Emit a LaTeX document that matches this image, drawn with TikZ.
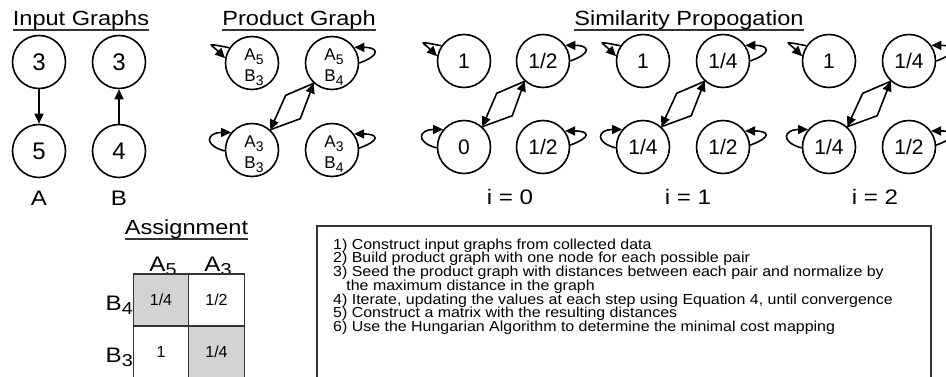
\documentclass[tikz,border=0pt]{standalone}
\usepackage{fontspec}
\usepackage{graphicx}
\setmainfont{Liberation Sans}
\newfontfamily\widefont[FakeStretch=1.15]{Liberation Sans}
\usetikzlibrary{arrows.meta,calc}
\definecolor{cellgray}{HTML}{D3D3D3}
\definecolor{rulegray}{HTML}{333333}
\newcommand{\sub}[1]{\raisebox{-0.22em}{\scalebox{0.82}{#1}}}
\newcommand{\stepfont}{\fontsize{14.5}{13.7}\selectfont\lineskiplimit=-50pt\relax}
\newcommand{\titleline}[3]{\node[heading] (#1) at (#2) {#3};\draw[headrule] ([yshift=-4pt]#1.base west) -- ([yshift=-4pt]#1.base east);}
\newcommand{\wiring}[1]{%
\draw[edgearrow] (#1tl.146) .. controls +(-26,-5) and +(-14,-14) .. (#1tl.170);
\draw[edgearrow] (#1tr.0) .. controls +(22,-8) and +(24,0) .. (#1tr.35);
\draw[edgearrow] (#1bl.182) .. controls +(-22,-6) and +(-24,0) .. (#1bl.140);
\draw[edgearrow] (#1br.4) .. controls +(22,-8) and +(24,0) .. (#1br.36);
\draw[edgearrow] (#1tr.228) -- ++(-28,12) -- (#1bl.48);
\draw[edgearrow] (#1bl.48) -- ++(30,-11) -- (#1tr.228);}
\tikzset{
  vnode/.style={draw, circle, line width=1.6pt, minimum size=53pt, inner sep=0pt, font=\fontsize{24}{24}\selectfont},
  snode/.style={vnode, font=\fontsize{21}{21}\selectfont},
  pairtext/.style={align=center, inner sep=0pt, xshift=2pt, yshift=-4pt, font=\fontsize{17}{21}\selectfont},
  edgearrow/.style={-{Triangle[length=10pt,width=9pt]}, line width=1.6pt},
  heading/.style={anchor=base, inner sep=0pt, font=\widefont\fontsize{20.5}{20.5}\selectfont},
  headrule/.style={line width=1.4pt, rulegray},
  sublabel/.style={anchor=base, inner sep=0pt, font=\widefont\fontsize{21}{21}\selectfont},
  cell/.style={draw=rulegray, line width=1.2pt, minimum width=55.5pt, minimum height=52pt, inner sep=0pt, font=\fontsize{16}{16}\selectfont},
  boxline/.style={draw=rulegray, line width=1.3pt},
  steptext/.style={anchor=north west, align=left, inner sep=0pt, xscale=1.1, font=\stepfont}
}
\begin{document}
\begin{tikzpicture}[x=1pt, y=-1pt]
\useasboundingbox (0,0) rectangle (946,377);
% input graphs
\titleline{tinput}{81,26}{Input Graphs}
\node[vnode] (a3) at (39,62) {3};
\node[vnode] (a5) at (39,151) {5};
\node[vnode] (b3) at (119,62) {3};
\node[vnode] (b4) at (119,151) {4};
\draw[edgearrow] (a3) -- (a5);
\draw[edgearrow] (b4) -- (b3);
\node[sublabel] (la) at (39,206) {A};
\node[sublabel] (lb) at (119,206) {B};
% product graph
\titleline{tproduct}{299,26}{Product Graph}
\node[vnode, label={[pairtext]center:{A\sub{5}\\B\sub{3}}}] (pgtl) at (252,63) {};
\node[vnode, label={[pairtext]center:{A\sub{5}\\B\sub{4}}}] (pgtr) at (332,63) {};
\node[vnode, label={[pairtext]center:{A\sub{3}\\B\sub{3}}}] (pgbl) at (252,150) {};
\node[vnode, label={[pairtext]center:{A\sub{3}\\B\sub{4}}}] (pgbr) at (332,150) {};
\wiring{pg}
% similarity propagation
\titleline{tsim}{689,26}{Similarity Propogation}
\node[snode] (s0tl) at (464,61) {1};
\node[snode] (s0tr) at (543,61) {1/2};
\node[snode] (s0bl) at (464,147) {0};
\node[snode] (s0br) at (543,147) {1/2};
\wiring{s0}
\node[sublabel] (li0) at (510,205) {i = 0};
\node[snode] (s1tl) at (643,61) {1};
\node[snode] (s1tr) at (723,61) {1/4};
\node[snode] (s1bl) at (643,147) {1/4};
\node[snode] (s1br) at (723,147) {1/2};
\wiring{s1}
\node[sublabel] (li1) at (688,205) {i = 1};
\node[snode] (s2tl) at (829,61) {1};
\node[snode] (s2tr) at (909,61) {1/4};
\node[snode] (s2bl) at (829,147) {1/4};
\node[snode] (s2br) at (909,147) {1/2};
\wiring{s2}
\node[sublabel] (li2) at (875,205) {i = 2};
% assignment
\titleline{tassign}{186.5,235}{Assignment}
\node[sublabel] (ha5) at (163,271) {A\sub{5}};
\node[sublabel] (ha3) at (218,271) {A\sub{3}};
\node[cell, fill=cellgray] (c54) at (161,300) {1/4};
\node[cell] (c34) at (216.5,300) {1/2};
\node[cell] (c53) at (161,352) {1};
\node[cell, fill=cellgray] (c33) at (216.5,352) {1/4};
\node[sublabel, anchor=base east] (rb4) at (133,310) {B\sub{4}};
\node[sublabel, anchor=base east] (rb3) at (133,362) {B\sub{3}};
% steps
\draw[boxline] (317,226) rectangle (931,395);
\node[steptext] (steplist) at (333,238.5) {1) Construct input graphs from collected data\\
2) Build product graph with one node for each possible pair\\
3) Seed the product graph with distances between each pair and normalize by\\
\hspace*{12pt}the maximum distance in the graph\\
4) Iterate, updating the values at each step using Equation 4, until convergence\\
5) Construct a matrix with the resulting distances\\
6) Use the Hungarian Algorithm to determine the minimal cost mapping};
\end{tikzpicture}
\end{document}
